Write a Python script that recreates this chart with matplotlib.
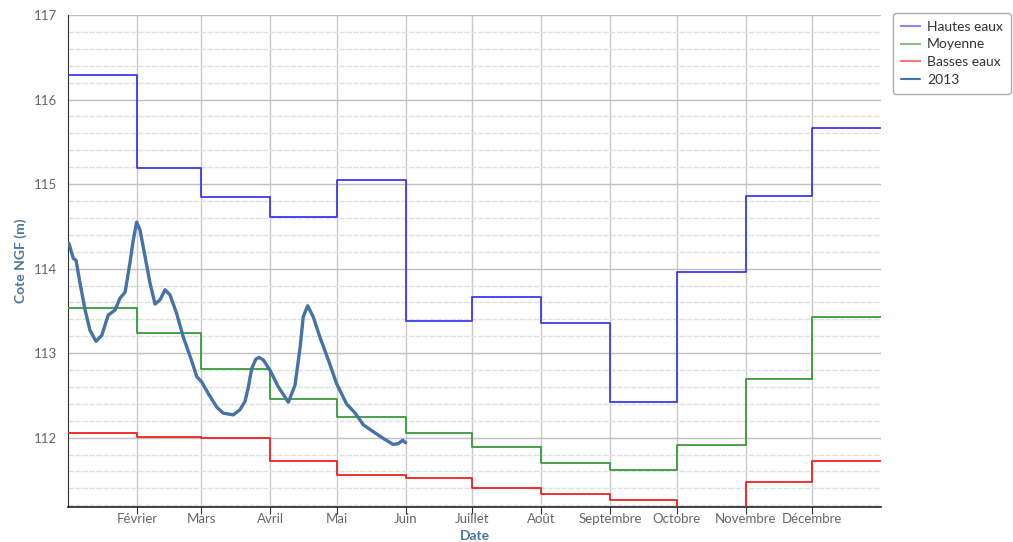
import matplotlib
matplotlib.use("Agg")
import matplotlib.pyplot as plt
from matplotlib.ticker import MultipleLocator

plt.rcParams["font.family"] = ["Lato", "DejaVu Sans"]

# Month starts (day of year, 366-day axis) and labels
month_starts = [0, 31, 60, 91, 121, 152, 182, 213, 244, 274, 305, 335]
year_end = 366
month_labels = ["Février", "Mars", "Avril", "Mai", "Juin", "Juillet",
                "Août", "Septembre", "Octobre", "Novembre", "Décembre"]

hautes = [116.29, 115.19, 114.85, 114.61, 115.05, 113.38, 113.67, 113.36,
          112.42, 113.96, 114.86, 115.66]
moyenne = [113.53, 113.24, 112.81, 112.46, 112.24, 112.05, 111.89, 111.70,
           111.62, 111.91, 112.69, 113.43]
basses = [112.05, 112.01, 112.00, 111.73, 111.56, 111.52, 111.40, 111.33,
          111.26, 111.00, 111.47, 111.72]

# 2013 series (day of year, level)
d2013 = [0.4, 2.4, 3.6, 5.4, 7.7, 9.9, 12.6, 15.2, 18.1, 21.2, 23.4, 25.7,
         27.9, 29.4, 30.9, 32.4, 34.7, 36.9, 39.2, 41.4, 43.7, 45.9, 48.9,
         51.9, 55.0, 58.0, 60.2, 63.2, 67.0, 69.9, 74.4, 77.4, 79.7, 81.2,
         82.7, 84.6, 86.0, 87.9, 90.9, 94.7, 99.2, 102.2, 104.5, 105.9,
         107.9, 110.4, 113.4, 117.2, 120.9, 125.4, 129.3, 133.0, 137.5,
         142.0, 146.4, 148.7, 150.7, 152.0]
v2013 = [114.30, 114.12, 114.10, 113.83, 113.51, 113.27, 113.14, 113.21,
         113.45, 113.51, 113.65, 113.72, 114.07, 114.34, 114.55, 114.46,
         114.14, 113.83, 113.58, 113.63, 113.75, 113.69, 113.47, 113.19,
         112.96, 112.72, 112.66, 112.52, 112.36, 112.29, 112.27, 112.33,
         112.43, 112.60, 112.82, 112.93, 112.95, 112.92, 112.80, 112.60,
         112.42, 112.62, 113.07, 113.43, 113.56, 113.43, 113.19, 112.92,
         112.64, 112.40, 112.29, 112.15, 112.07, 111.99, 111.92, 111.93,
         111.97, 111.94]

fig = plt.figure(figsize=(10.13, 5.42), dpi=100)
ax = fig.add_axes([68/1013, 1-507/542, (881-68)/1013, (507-15)/542])

xs = month_starts + [year_end]
ax.plot(xs, hautes + [hautes[-1]], drawstyle="steps-post", color="#3a3af0",
        lw=1.3, label="Hautes eaux", zorder=3)
ax.plot(xs, moyenne + [moyenne[-1]], drawstyle="steps-post", color="#3a9a3a",
        lw=1.3, label="Moyenne", zorder=3)
ax.plot(xs, basses + [basses[-1]], drawstyle="steps-post", color="#f02020",
        lw=1.3, label="Basses eaux", zorder=3)
ax.plot(d2013, v2013, color="#4572A7", lw=2.4, label="2013", zorder=4,
        solid_joinstyle="round", solid_capstyle="round")

ax.set_xlim(0, year_end)
ax.set_ylim(111.18, 117)

ax.set_xticks(month_starts[1:])
ax.set_xticklabels(month_labels)
ax.yaxis.set_major_locator(MultipleLocator(1))
ax.yaxis.set_minor_locator(MultipleLocator(0.2))

ax.grid(axis="x", which="major", color="#c8c8c8", lw=1.0)
ax.grid(axis="y", which="major", color="#c0c0c0", lw=1.0)
ax.grid(axis="y", which="minor", color="#e0e0e0", lw=1.0, ls=(0, (4, 1)))
ax.set_axisbelow(True)

for s in ["top", "right"]:
    ax.spines[s].set_visible(False)
ax.spines["left"].set_color("#333333")
ax.spines["bottom"].set_color("#222222")
ax.spines["bottom"].set_linewidth(1.2)

ax.tick_params(axis="x", direction="out", length=5, color="#333333",
               labelsize=9.5, labelcolor="#666666", pad=-1)
ax.tick_params(axis="y", which="both", length=0, labelsize=9.5,
               labelcolor="#666666", pad=8)

ax.set_xlabel("Date", fontsize=10, fontweight="bold", color="#4d759e", labelpad=4)
ax.set_ylabel("Cote NGF (m)", fontsize=10, fontweight="bold", color="#4d759e",
              labelpad=5)

leg = fig.legend(loc="upper left", bbox_to_anchor=(893/1013, 1-13/542),
                 frameon=True, fontsize=10, handlelength=1.4, borderpad=0.55,
                 labelspacing=0.42, handletextpad=0.5, borderaxespad=0)
leg.get_frame().set_edgecolor("#999999")
leg.get_frame().set_linewidth(1.0)
for t in leg.get_texts():
    t.set_color("#333333")
alphas = [0.6, 0.6, 0.6, 1.0]
for h, a in zip(leg.legend_handles, alphas):
    h.set_alpha(a)
    h.set_linewidth(1.5)

fig.savefig("out.png", dpi=100)
